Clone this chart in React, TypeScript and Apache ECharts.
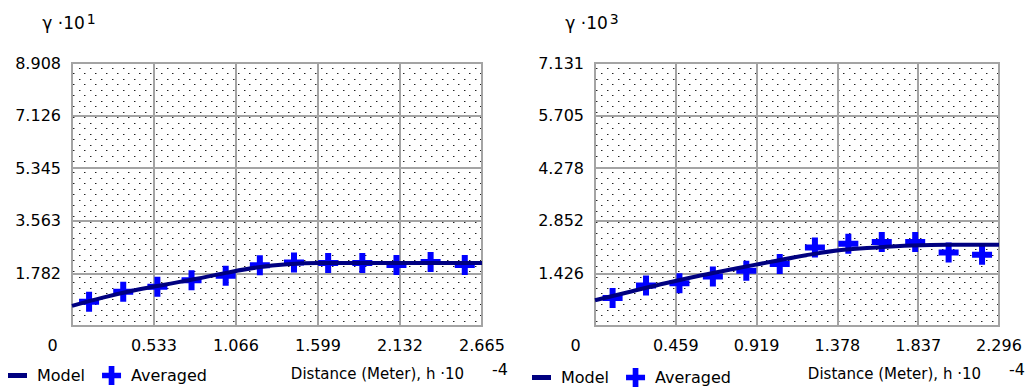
import React, { useEffect, useRef } from 'react';
import * as echarts from 'echarts';

// ---- Left chart data (x: Distance h·10^-4, y: γ·10^1) ----
const leftXTickMax = 2.665;
const leftXInterval = 0.533;
const leftYMax = 8.908;
const leftYInterval = 1.7816;
const leftAvgX = [0.111, 0.333, 0.555, 0.777, 0.999, 1.221, 1.443, 1.665, 1.887, 2.109, 2.331, 2.553];
const leftAvgY = [0.82, 1.16, 1.33, 1.55, 1.70, 2.06, 2.15, 2.13, 2.13, 2.07, 2.17, 2.07];
const leftModelX = [0, 0.2, 0.4, 0.6, 0.8, 1.0, 1.2, 1.4, 1.6, 2.0, 2.665];
const leftModelY = [0.68, 0.96, 1.2, 1.4, 1.59, 1.8, 1.98, 2.09, 2.13, 2.13, 2.13];

// ---- Right chart data (x: Distance h·10^-4, y: γ·10^3) ----
const rightXTickMax = 2.2963;
const rightXInterval = 0.45926;
const rightYMax = 7.1308;
const rightYInterval = 1.42616;
const rightAvgX = [0.1, 0.29, 0.48, 0.67, 0.86, 1.05, 1.25, 1.44, 1.63, 1.82, 2.01, 2.2];
const rightAvgY = [0.76, 1.1, 1.16, 1.34, 1.5, 1.68, 2.13, 2.23, 2.28, 2.28, 1.99, 1.93];
const rightModelX = [0, 0.2, 0.4, 0.6, 0.8, 1.0, 1.2, 1.4, 1.6, 1.8, 2.0, 2.2963];
const rightModelY = [0.7, 0.93, 1.16, 1.37, 1.56, 1.74, 1.92, 2.06, 2.13, 2.18, 2.2, 2.2];

const leftYName = ['γ ·10', '1'];
const rightYName = ['γ ·10', '3'];
const xName = ['Distance (Meter), h ·10', '-4'];

const FONT = 'DejaVu Sans';
const GRID_COLOR = '#a4a4a4';
const PLUS = 'path://M7,0H13V7H20V13H13V20H7V13H0V7H7Z';
const BAR = 'path://M0,0H19V5H0Z';

function makeDots(): string {
  const c = document.createElement('canvas');
  c.width = 11;
  c.height = 11;
  const ctx = c.getContext('2d')!;
  ctx.fillStyle = '#ffffff';
  ctx.fillRect(0, 0, 11, 11);
  ctx.fillStyle = '#9a9a9a';
  ctx.fillRect(3, 2, 1, 1);
  ctx.fillRect(8, 7, 1, 1);
  ctx.fillStyle = '#222222';
  ctx.fillRect(2, 2, 1, 1);
  ctx.fillRect(7, 7, 1, 1);
  return c.toDataURL();
}

const zip = (xs: number[], ys: number[]) => xs.map((x, i) => [x, ys[i]]);

export default function App() {
  const ref = useRef<HTMLDivElement>(null);
  useEffect(() => {
    if (!ref.current) return;
    const chart = echarts.init(ref.current, undefined, { renderer: 'svg' });
    const dots = makeDots();
    const pattern: any = { image: dots, repeat: 'repeat', imageWidth: 11, imageHeight: 11 };

    const gridBase = {
      show: true,
      backgroundColor: pattern,
      borderColor: GRID_COLOR,
      borderWidth: 2,
      containLabel: false,
    };

    const xRich = {
      z: { fontSize: 16, fontFamily: FONT, color: '#000', padding: [0, 39, 0, 0] },
    };
    const mkX = (gridIndex: number, max: number, interval: number) => ({
      type: 'value',
      gridIndex,
      min: 0,
      max,
      interval,
      axisLine: { show: false },
      axisTick: { show: false },
      splitLine: { show: true, lineStyle: { color: GRID_COLOR, width: 2 } },
      axisLabel: {
        fontSize: 16,
        fontFamily: FONT,
        color: '#000',
        margin: 11,
        showMinLabel: true,
        showMaxLabel: true,
        formatter: (v: number) => (v === 0 ? '{z|0}' : v.toFixed(3)),
        rich: xRich,
      },
      name: `{a|${xName[0]}}{s|${xName[1]}}`,
      nameLocation: 'end',
      nameGap: 28,
      nameTextStyle: {
        align: 'right',
        verticalAlign: 'top',
        padding: [39, 0, 0, 0],
        rich: {
          a: { fontSize: 15, fontFamily: FONT, color: '#000', lineHeight: 18, verticalAlign: 'middle' },
          s: { fontSize: 16, fontFamily: FONT, color: '#000', lineHeight: 14, verticalAlign: 'middle', padding: [0, 2, 10, 28] },
        },
      },
    });
    const mkY = (gridIndex: number, max: number, interval: number, nm: string[]) => ({
      type: 'value',
      gridIndex,
      min: 0,
      max,
      interval,
      axisLine: { show: false },
      axisTick: { show: false },
      splitLine: { show: true, lineStyle: { color: GRID_COLOR, width: 2 } },
      axisLabel: {
        fontSize: 16,
        fontFamily: FONT,
        color: '#000',
        margin: 11,
        showMinLabel: false,
        formatter: (v: number) => v.toFixed(3),
      },
      name: `{a|${nm[0]}}{s|${nm[1]}}`,
      nameLocation: 'end',
      nameGap: 30,
      nameTextStyle: {
        padding: [0, 6, 0, 0],
        rich: {
          a: { fontSize: 17, fontFamily: FONT, color: '#000', lineHeight: 20, verticalAlign: 'middle' },
          s: { fontSize: 14, fontFamily: FONT, color: '#000', lineHeight: 14, verticalAlign: 'middle', padding: [0, 0, 8, 2] },
        },
      },
    });

    const mkLegend = (left: number, top: number) => ({
      left,
      top,
      padding: 0,
      orient: 'horizontal',
      itemWidth: 19,
      itemHeight: 19,
      itemGap: 17,
      selectedMode: false,
      textStyle: { fontSize: 16, fontFamily: FONT, color: '#000', padding: [0, 0, 0, 5] },
      data: [
        { name: 'Model', icon: BAR },
        { name: 'Averaged', icon: PLUS },
      ],
    });

    const modelSeries = (i: number, xs: number[], ys: number[]) => ({
      type: 'line',
      name: 'Model',
      xAxisIndex: i,
      yAxisIndex: i,
      data: zip(xs, ys),
      smooth: 0.4,
      symbol: 'none',
      showSymbol: false,
      lineStyle: { color: '#000080', width: 4 },
      itemStyle: { color: '#000080' },
      z: 3,
    });
    const avgSeries = (i: number, xs: number[], ys: number[]) => ({
      type: 'scatter',
      name: 'Averaged',
      xAxisIndex: i,
      yAxisIndex: i,
      data: zip(xs, ys),
      symbol: PLUS,
      symbolSize: 20,
      itemStyle: { color: '#0000ff', opacity: 1 },
      z: 2,
    });

    chart.setOption({
      animation: false,
      backgroundColor: '#ffffff',
      textStyle: { fontFamily: FONT },
      grid: [
        { ...gridBase, left: 72, top: 63, width: 410, height: 264 },
        { ...gridBase, left: 595, top: 63, width: 407, height: 266 },
      ],
      xAxis: [mkX(0, leftXTickMax, leftXInterval), mkX(1, rightXTickMax, rightXInterval)],
      yAxis: [mkY(0, leftYMax, leftYInterval, leftYName), mkY(1, rightYMax, rightYInterval, rightYName)],
      legend: [mkLegend(8, 366), mkLegend(532, 368)],
      series: [
        avgSeries(0, leftAvgX, leftAvgY),
        modelSeries(0, leftModelX, leftModelY),
        avgSeries(1, rightAvgX, rightAvgY),
        modelSeries(1, rightModelX, rightModelY),
      ],
    });
    return () => chart.dispose();
  }, []);
  return (
    <div
      ref={ref}
      style={{ position: 'absolute', left: 0, top: 0, width: 1030, height: 387, background: '#fff' }}
    />
  );
}
